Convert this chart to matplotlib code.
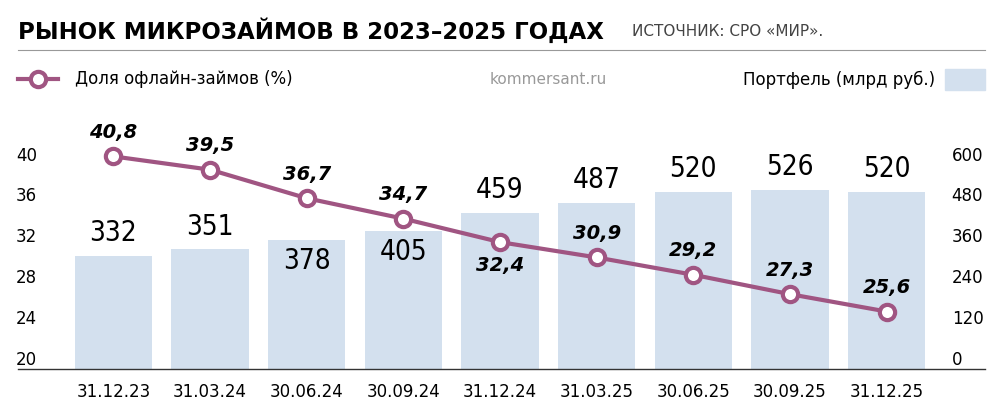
import matplotlib
matplotlib.use("Agg")
import matplotlib.pyplot as plt

dates = ["31.12.23","31.03.24","30.06.24","30.09.24","31.12.24","31.03.25","30.06.25","30.09.25","31.12.25"]
portfolio = [332,351,378,405,459,487,520,526,520]
offline = [40.8,39.5,36.7,34.7,32.4,30.9,29.2,27.3,25.6]
left_ticks = [20,24,28,32,36,40]
right_ticks = [0,120,240,360,480,600]
bar_label_inside = [False, False, True, True, False, False, False, False, False]

fig = plt.figure(figsize=(10,4.18), dpi=100)
fig.text(0.018, 0.925, "РЫНОК МИКРОЗАЙМОВ В 2023–2025 ГОДАХ", fontsize=16.5, fontweight="heavy",
         family="DejaVu Sans", va="center")
fig.text(0.632, 0.925, "ИСТОЧНИК: СРО «МИР».", fontsize=11, color="#444444", va="center")
fig.add_artist(plt.Line2D([0.018,0.985],[0.88,0.88], color="#999999", lw=0.8))
fig.add_artist(plt.Line2D([0.018,0.985],[0.118,0.118], color="#333333", lw=1.0))
# legend
fig.add_artist(plt.Line2D([0.018,0.058],[0.81,0.81], color="#a05582", lw=3))
fig.add_artist(plt.Line2D([0.038],[0.81], marker="o", ms=11, mfc="white", mec="#a05582", mew=3))
fig.text(0.075, 0.81, "Доля офлайн-займов (%)", fontsize=12, va="center")
fig.text(0.49, 0.81, "kommersant.ru", fontsize=11, va="center", color="#999999")
fig.text(0.935, 0.81, "Портфель (млрд руб.)", fontsize=12, va="center", ha="right")
fig.add_artist(plt.Rectangle((0.945,0.785),0.04,0.05, color="#d3e0ee", transform=fig.transFigure))

ax = fig.add_axes([0.065, 0.118, 0.87, 0.586])
ax2 = ax.twinx()
lo, hi = 20, 44
ax.set_ylim(lo, hi)
ax2.set_ylim((lo-20)*30, (hi-20)*30)
x = range(len(dates))
ax2.bar(x, portfolio, width=0.8, color="#d3e0ee", zorder=1)
for i,p in enumerate(portfolio):
    if bar_label_inside[i]:
        ax2.text(i, p-20, str(p), ha="center", va="top", fontsize=20,
                 family="DejaVu Sans", stretch="condensed")
    else:
        ax2.text(i, p+25, str(p), ha="center", va="bottom", fontsize=20,
                 family="DejaVu Sans", stretch="condensed")
ax.set_zorder(ax2.get_zorder()+1); ax.patch.set_visible(False)
ax.plot(x, offline, color="#a05582", lw=3, marker="o", ms=11, mfc="white", mec="#a05582", mew=3)
for i,v in enumerate(offline):
    if i == 4:
        ax.text(i, v-1.4, f"{v}".replace(".",","), ha="center", va="top", fontsize=14,
                fontweight="bold", style="italic")
    else:
        ax.text(i, v+1.4, f"{v}".replace(".",","), ha="center", va="bottom", fontsize=14,
                fontweight="bold", style="italic")
ax.set_xlim(-0.5, len(dates)-0.5)
ax.set_xticks(list(x)); ax.set_xticklabels(dates, fontsize=12)
ax.set_yticks(left_ticks); ax.set_yticklabels(left_ticks, fontsize=12, va="bottom")
ax2.set_yticks(right_ticks); ax2.set_yticklabels(right_ticks, fontsize=12, va="bottom")
for a in (ax, ax2):
    for s in a.spines.values(): s.set_visible(False)
    a.tick_params(length=0)
ax.tick_params(axis="y", pad=20)
ax2.tick_params(axis="y", pad=12)
ax.tick_params(axis="x", pad=10)
fig.savefig("out.png", dpi=100)
